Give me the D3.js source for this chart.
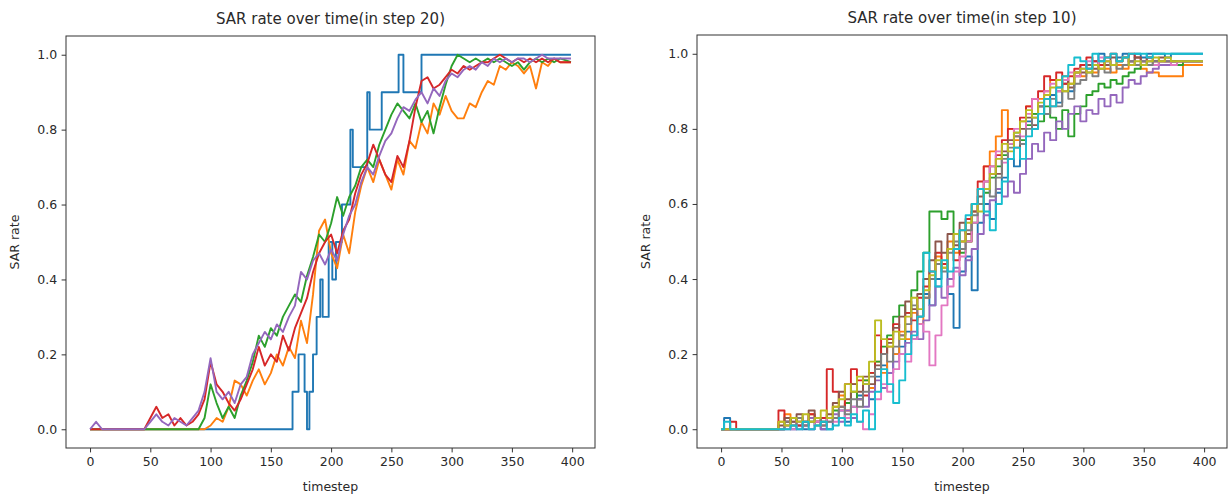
<!DOCTYPE html>
<html>
<head>
<meta charset="utf-8">
<script src="https://cdn.jsdelivr.net/npm/d3@7"></script>
<style>
  body { margin: 0; background: #fff; }
  text { font-family: "DejaVu Sans", sans-serif; fill: #2a2a2a; }
</style>
</head>
<body>
<svg id="chart" width="1229" height="497"></svg>
<script>
// Sampled timesteps (every 5 steps, last sample at the final step 399)
const timesteps = d3.range(0, 395, 5).concat([399]);

const xTicks = [0, 50, 100, 150, 200, 250, 300, 350, 400];
const yTicks = [0, 0.2, 0.4, 0.6, 0.8, 1.0];

const tab10 = ["#1f77b4", "#ff7f0e", "#2ca02c", "#d62728", "#9467bd",
               "#8c564b", "#e377c2", "#7f7f7f", "#bcbd22", "#17becf"];

// ---- step 20 runs ----
// run 0 changes in coarse steps: [timestep, rate] change points
const step20Run0 = [[0,0],[168,0.1],[173,0.2],[178,0.1],[180,0],[182,0.1],[185,0.2],[188,0.3],
  [191,0.4],[193,0.3],[198,0.5],[201,0.4],[204,0.5],[209,0.6],[216,0.8],[218,0.7],[230,0.9],
  [232,0.8],[242,0.9],[256,1.0],[260,0.9],[275,1.0],[399,1.0]];
const step20Run1 = [0,0,0,0,0,0,0,0,0,0,
  0,0,0,0,0,0,0,0,0,0,
  0.01,0.03,0.02,0.06,0.13,0.12,0.09,0.13,0.16,0.12,
  0.15,0.2,0.17,0.22,0.19,0.29,0.23,0.36,0.53,0.56,
  0.47,0.43,0.52,0.47,0.58,0.65,0.7,0.66,0.72,0.68,
  0.64,0.72,0.68,0.77,0.75,0.82,0.79,0.87,0.84,0.89,
  0.85,0.83,0.83,0.87,0.86,0.9,0.93,0.92,0.97,0.96,
  0.98,0.97,0.95,0.97,0.91,0.98,0.97,0.99,0.98,0.98];
const step20Run2 = [0,0,0,0,0,0,0,0,0,0,
  0,0,0,0,0,0,0,0,0,0.03,
  0.12,0.07,0.03,0.06,0.03,0.09,0.13,0.18,0.25,0.22,
  0.27,0.25,0.3,0.33,0.36,0.34,0.41,0.46,0.52,0.5,
  0.55,0.62,0.57,0.62,0.65,0.7,0.72,0.7,0.76,0.8,
  0.84,0.87,0.85,0.83,0.87,0.82,0.85,0.79,0.86,0.92,
  0.97,1.0,0.99,0.98,0.99,0.98,0.99,0.98,0.99,0.98,
  0.97,0.98,0.96,0.98,0.99,0.98,0.99,0.98,0.99,0.98];
const step20Run3 = [0,0,0,0,0,0,0,0,0,0,
  0.03,0.06,0.03,0.04,0.01,0.03,0.01,0.02,0.04,0.08,
  0.18,0.12,0.1,0.07,0.05,0.08,0.12,0.16,0.22,0.17,
  0.2,0.18,0.25,0.21,0.27,0.31,0.35,0.42,0.47,0.5,
  0.52,0.47,0.53,0.56,0.63,0.68,0.71,0.76,0.72,0.68,
  0.66,0.73,0.7,0.77,0.86,0.93,0.94,0.91,0.92,0.94,
  0.96,0.95,0.97,0.96,0.97,0.98,0.98,0.99,1.0,0.99,
  0.98,0.99,0.98,0.99,0.98,0.99,0.98,0.99,0.98,0.98];
const step20Run4 = [0,0.02,0,0,0,0,0,0,0,0,
  0.02,0.04,0.02,0.01,0.03,0.02,0.01,0.03,0.05,0.1,
  0.19,0.1,0.08,0.1,0.07,0.12,0.14,0.2,0.23,0.26,
  0.24,0.28,0.26,0.3,0.33,0.42,0.4,0.45,0.47,0.44,
  0.48,0.45,0.52,0.57,0.6,0.66,0.7,0.68,0.73,0.77,
  0.79,0.83,0.86,0.85,0.88,0.9,0.87,0.91,0.89,0.93,
  0.95,0.94,0.96,0.97,0.96,0.98,0.97,0.99,0.98,0.99,
  0.98,0.99,0.99,0.98,0.99,1.0,0.99,0.99,0.99,0.99];

// ---- step 10 runs ----
const step10Run0 = [0,0.03,0,0,0,0,0,0,0,0,
  0,0.02,0,0.01,0,0,0.02,0,0,0.03,
  0.05,0.02,0.06,0.09,0.12,0.08,0.14,0.17,0.15,0.2,
  0.22,0.26,0.24,0.3,0.36,0.33,0.4,0.44,0.36,0.27,
  0.42,0.46,0.37,0.55,0.6,0.56,0.63,0.67,0.72,0.7,
  0.76,0.82,0.8,0.86,0.84,0.89,0.87,0.92,0.9,0.95,
  0.97,0.96,0.98,1.0,0.98,0.97,0.99,1.0,0.98,1.0,
  0.99,1.0,1.0,1.0,0.99,1.0,1.0,1.0,1.0,1.0];
const step10Run1 = [0,0,0,0,0,0,0,0,0,0,
  0.02,0.04,0.01,0.03,0.02,0.04,0.02,0.01,0.03,0.06,
  0.09,0.05,0.12,0.08,0.13,0.11,0.18,0.15,0.22,0.2,
  0.26,0.24,0.31,0.28,0.35,0.4,0.46,0.43,0.5,0.47,
  0.53,0.5,0.58,0.64,0.7,0.74,0.78,0.85,0.8,0.77,
  0.82,0.86,0.84,0.88,0.9,0.93,0.91,0.94,0.92,0.95,
  0.94,0.96,0.95,0.97,0.96,0.95,0.97,0.96,0.98,0.97,
  0.96,0.95,0.95,0.94,0.94,0.94,0.94,0.97,0.97,0.97];
const step10Run2 = [0,0,0,0,0,0,0,0,0,0,
  0,0.01,0.03,0.02,0.01,0.02,0.01,0.02,0.03,0.05,
  0.03,0.07,0.1,0.08,0.13,0.15,0.18,0.22,0.25,0.3,
  0.33,0.31,0.37,0.42,0.47,0.58,0.58,0.56,0.58,0.52,
  0.47,0.5,0.55,0.6,0.63,0.67,0.7,0.73,0.76,0.79,
  0.77,0.81,0.84,0.82,0.86,0.83,0.8,0.85,0.78,0.84,
  0.86,0.89,0.9,0.92,0.91,0.93,0.92,0.94,0.95,0.96,
  0.97,0.98,0.97,0.98,0.98,0.98,0.97,0.98,0.98,0.98];
const step10Run3 = [0,0,0.02,0,0,0,0,0,0,0,
  0.05,0.02,0.03,0.01,0.02,0.04,0.02,0.03,0.16,0.1,
  0.06,0.12,0.16,0.13,0.09,0.15,0.25,0.2,0.24,0.28,
  0.25,0.31,0.29,0.35,0.38,0.42,0.47,0.44,0.48,0.45,
  0.5,0.56,0.6,0.66,0.7,0.68,0.73,0.77,0.8,0.78,
  0.83,0.86,0.88,0.9,0.94,0.93,0.95,0.92,0.94,0.96,
  0.97,0.99,0.98,0.97,0.99,1.0,0.98,0.99,1.0,0.99,
  0.98,0.99,0.98,0.98,0.98,0.98,0.98,0.98,0.98,0.98];
const step10Run4 = [0,0,0,0,0,0,0,0,0,0,
  0,0,0.02,0,0.01,0.03,0.02,0,0.02,0.04,
  0.02,0.05,0.03,0.08,0.06,0.1,0.13,0.11,0.15,0.18,
  0.2,0.23,0.26,0.24,0.29,0.33,0.38,0.35,0.4,0.43,
  0.41,0.45,0.48,0.52,0.57,0.61,0.64,0.62,0.66,0.63,
  0.68,0.72,0.76,0.74,0.79,0.77,0.82,0.8,0.84,0.86,
  0.82,0.85,0.84,0.88,0.86,0.89,0.87,0.91,0.93,0.92,
  0.94,0.95,0.96,0.97,0.97,0.98,0.98,0.98,0.98,0.98];
const step10Run5 = [0,0,0,0,0,0,0,0,0,0,
  0.01,0.03,0.02,0.04,0.02,0.05,0.03,0.02,0.04,0.07,
  0.1,0.08,0.12,0.1,0.14,0.12,0.17,0.2,0.23,0.27,
  0.3,0.34,0.32,0.36,0.4,0.45,0.5,0.47,0.52,0.49,
  0.55,0.52,0.58,0.62,0.66,0.7,0.68,0.74,0.77,0.75,
  0.8,0.83,0.81,0.86,0.88,0.86,0.9,0.93,0.91,0.94,
  0.95,0.97,0.96,0.98,0.97,0.99,0.98,0.99,0.98,0.99,
  0.98,0.99,0.98,0.99,0.98,0.98,0.98,0.98,0.98,0.98];
const step10Run6 = [0,0,0,0,0,0,0,0,0,0,
  0,0.01,0,0.02,0.01,0,0.02,0.01,0.03,0.02,
  0.05,0.03,0.06,0.02,0,0.04,0.08,0.12,0.1,0.16,
  0.2,0.18,0.24,0.28,0.26,0.17,0.25,0.33,0.38,0.42,
  0.46,0.5,0.55,0.6,0.66,0.7,0.74,0.71,0.76,0.8,
  0.78,0.84,0.88,0.86,0.9,0.92,0.9,0.93,0.95,0.94,
  0.96,0.98,0.97,0.99,0.98,0.97,0.98,0.99,0.98,0.97,
  0.98,0.98,0.97,0.98,0.98,0.97,0.98,0.98,0.98,0.98];
const step10Run7 = [0,0,0,0,0,0,0,0,0,0,
  0,0.02,0.01,0.03,0.01,0.02,0.03,0.01,0.02,0.03,
  0.06,0.04,0.08,0.06,0.1,0.14,0.16,0.2,0.18,0.22,
  0.25,0.28,0.33,0.3,0.35,0.4,0.44,0.42,0.47,0.5,
  0.48,0.53,0.57,0.6,0.64,0.62,0.67,0.72,0.75,0.78,
  0.76,0.8,0.83,0.86,0.84,0.88,0.86,0.9,0.88,0.92,
  0.93,0.95,0.94,0.96,0.95,0.97,0.96,0.97,0.98,0.97,
  0.98,0.97,0.98,0.98,0.98,0.98,0.98,0.98,0.98,0.98];
const step10Run8 = [0,0,0,0,0,0,0,0,0,0,
  0.02,0.01,0.03,0.02,0.04,0.02,0.03,0.05,0.03,0.06,
  0.08,0.12,0.1,0.14,0.12,0.18,0.29,0.24,0.22,0.26,
  0.24,0.3,0.35,0.32,0.37,0.41,0.45,0.43,0.48,0.52,
  0.5,0.55,0.6,0.58,0.64,0.68,0.72,0.76,0.74,0.79,
  0.82,0.85,0.83,0.87,0.89,0.91,0.93,0.9,0.92,0.95,
  0.96,0.95,0.97,0.96,0.98,0.97,0.98,0.99,0.97,0.98,
  0.97,0.98,0.99,0.98,0.99,0.98,0.98,0.98,0.98,0.98];
const step10Run9 = [0,0.02,0,0,0,0,0,0,0,0,
  0,0,0.01,0,0.02,0,0.01,0.02,0,0.01,
  0.03,0.01,0.04,0.02,0.05,0,0.1,0.16,0.12,0.07,
  0.13,0.2,0.25,0.3,0.47,0.42,0.38,0.45,0.42,0.48,
  0.53,0.57,0.6,0.64,0.58,0.53,0.6,0.66,0.72,0.75,
  0.72,0.78,0.8,0.84,0.88,0.86,0.91,0.94,0.97,0.99,
  0.98,0.96,1.0,0.98,0.99,1.0,0.98,0.99,1.0,1.0,
  1.0,0.99,1.0,1.0,1.0,1.0,1.0,1.0,1.0,1.0];

const svg = d3.select("#chart");

function toPoints(values) {
  return values.map((v, i) => [timesteps[i], v]);
}

const panels = [
  {
    title: "SAR rate over time(in step 20)",
    left: 66, right: 595, top: 36, bottom: 448,
    runs: [
      { points: step20Run0, curve: d3.curveStepAfter },
      { points: toPoints(step20Run1) },
      { points: toPoints(step20Run2) },
      { points: toPoints(step20Run3) },
      { points: toPoints(step20Run4) }
    ]
  },
  {
    title: "SAR rate over time(in step 10)",
    left: 697, right: 1227, top: 35, bottom: 448,
    runs: [step10Run0, step10Run1, step10Run2, step10Run3, step10Run4,
           step10Run5, step10Run6, step10Run7, step10Run8, step10Run9]
      .map(v => ({ points: toPoints(v), curve: d3.curveStep }))
  }
];

panels.forEach(p => {
  const x = d3.scaleLinear().domain([-19.95, 418.95]).range([p.left, p.right]);
  const y = d3.scaleLinear().domain([-0.05, 1.05]).range([p.bottom, p.top]);
  const g = svg.append("g");

  // series, drawn in run order so later runs sit on top
  p.runs.forEach((r, i) => {
    const line = d3.line()
      .x(d => x(d[0]))
      .y(d => y(d[1]))
      .curve(r.curve || d3.curveLinear);
    g.append("path")
      .datum(r.points)
      .attr("fill", "none")
      .attr("stroke", tab10[i % 10])
      .attr("stroke-width", 1.9)
      .attr("stroke-linejoin", "round")
      .attr("d", line);
  });

  // axes
  const xAxis = d3.axisBottom(x).tickValues(xTicks).tickSize(4.4).tickPadding(4.4)
    .tickFormat(d3.format("d"));
  const yAxis = d3.axisLeft(y).tickValues(yTicks).tickSize(4.4).tickPadding(4.4)
    .tickFormat(d3.format(".1f"));

  const gx = g.append("g").attr("transform", `translate(0,${p.bottom})`).call(xAxis);
  const gy = g.append("g").attr("transform", `translate(${p.left},0)`).call(yAxis);
  [gx, gy].forEach(a => {
    a.select(".domain").remove();
    a.selectAll(".tick line").attr("stroke", "#333").attr("stroke-width", 1);
    a.selectAll(".tick text").attr("font-size", 12.5).attr("fill", "#2a2a2a")
      .style("font-family", "DejaVu Sans, sans-serif");
  });

  // frame
  g.append("rect")
    .attr("x", p.left).attr("y", p.top)
    .attr("width", p.right - p.left).attr("height", p.bottom - p.top)
    .attr("fill", "none").attr("stroke", "#333").attr("stroke-width", 1);

  const cx = (p.left + p.right) / 2;
  g.append("text").attr("x", cx).attr("y", p.top - 12)
    .attr("text-anchor", "middle").attr("font-size", 15).text(p.title);
  g.append("text").attr("x", cx).attr("y", 491)
    .attr("text-anchor", "middle").attr("font-size", 12.5).text("timestep");
  g.append("text")
    .attr("transform", `translate(${p.left - 47},${(p.top + p.bottom) / 2}) rotate(-90)`)
    .attr("text-anchor", "middle").attr("font-size", 12.5).text("SAR rate");
});
</script>
</body>
</html>
